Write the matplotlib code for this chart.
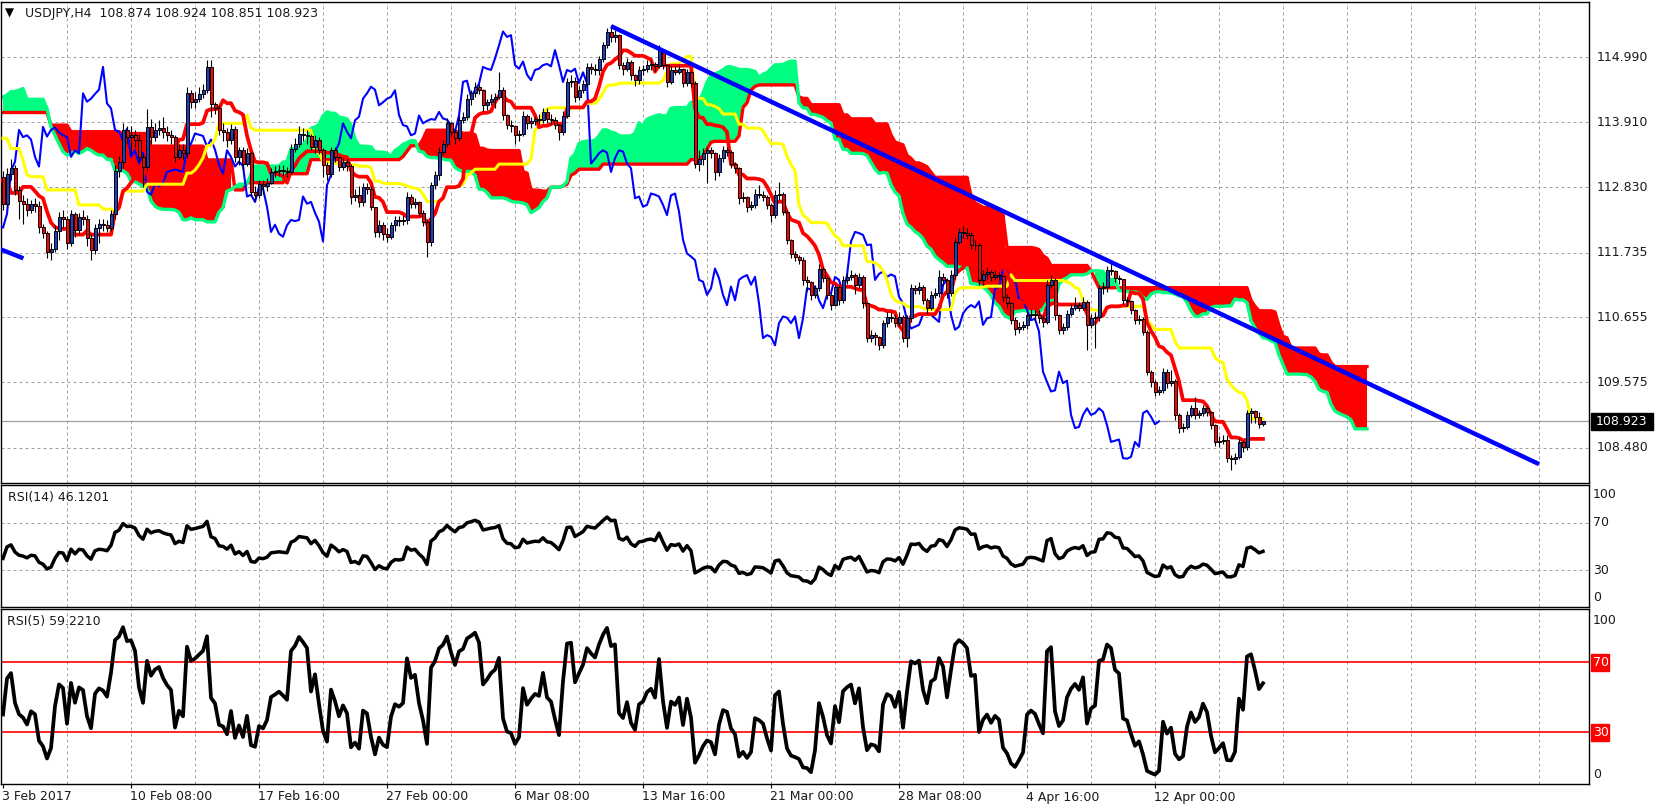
"""
USDJPY H4, Feb-Apr 2017: candles + Ichimoku cloud, RSI(14) and RSI(5) panes,
laid out like the MT4 terminal screenshot.
"""
import numpy as np
import pandas as pd
import matplotlib
matplotlib.use("Agg")
import matplotlib.pyplot as plt
from matplotlib.patches import Rectangle

W, H = 1657, 811

# ---- price bars (one value per H4 bar) ----
FIRST_OPEN = 113.00
CLOSE = [
    112.55, 113.05, 113.15, 112.78, 112.60, 112.55, 112.45, 112.55, 112.52, 112.17,
    112.06, 111.74, 111.80, 112.10, 112.33, 112.30, 111.90, 112.38, 112.12, 112.33,
    112.30, 111.98, 111.78, 112.15, 112.22, 112.20, 112.15, 112.38, 113.10, 113.25,
    113.78, 113.66, 113.69, 113.62, 113.33, 113.17, 113.83, 113.67, 113.78, 113.82,
    113.74, 113.69, 113.66, 113.33, 113.44, 113.39, 114.39, 114.25, 114.30, 114.38,
    114.45, 114.83, 114.22, 114.14, 113.78, 113.75, 113.61, 113.80, 113.33, 113.44,
    113.22, 113.40, 112.75, 112.70, 112.88, 112.84, 112.90, 113.08, 113.10, 113.12,
    113.10, 113.08, 113.47, 113.55, 113.72, 113.70, 113.68, 113.50, 113.62, 113.45,
    113.20, 113.05, 113.44, 113.33, 113.17, 113.25, 113.18, 112.67, 112.70, 112.58,
    112.83, 112.80, 112.50, 112.08, 112.20, 112.05, 112.00, 112.19, 112.28, 112.26,
    112.28, 112.67, 112.55, 112.58, 112.40, 112.25, 111.92, 112.86, 113.03, 113.42,
    113.55, 113.89, 113.75, 113.64, 113.94, 114.00, 114.30, 114.39, 114.50, 114.45,
    114.19, 114.24, 114.30, 114.33, 114.44, 114.03, 113.86, 113.84, 113.69, 113.72,
    114.02, 113.89, 113.93, 113.96, 113.95, 114.08, 113.97, 113.95, 113.86, 113.75,
    114.02, 114.58, 114.60, 114.33, 114.44, 114.55, 114.83, 114.80, 114.78, 114.97,
    115.19, 115.42, 115.33, 115.36, 114.86, 114.80, 114.92, 114.70, 114.61, 114.78,
    114.80, 114.86, 114.88, 114.84, 115.11, 114.86, 114.58, 114.78, 114.75, 114.80,
    114.56, 114.74, 114.56, 113.22, 113.30, 113.39, 113.44, 113.40, 113.08, 113.31,
    113.44, 113.42, 113.22, 113.14, 112.64, 112.67, 112.50, 112.53, 112.72, 112.70,
    112.67, 112.53, 112.36, 112.69, 112.72, 112.42, 111.95, 111.72, 111.67, 111.61,
    111.28, 111.25, 111.03, 111.14, 111.47, 111.31, 111.03, 110.86, 111.17, 110.94,
    111.28, 111.33, 111.36, 111.20, 111.33, 110.89, 110.31, 110.36, 110.33, 110.19,
    110.56, 110.67, 110.65, 110.56, 110.67, 110.31, 110.64, 111.14, 111.12, 111.17,
    110.94, 110.81, 111.03, 111.06, 111.33, 111.28, 111.06, 111.36, 111.92, 112.08,
    112.06, 112.03, 111.86, 111.87, 111.28, 111.38, 111.42, 111.33, 111.37, 111.34,
    111.00, 110.89, 110.61, 110.47, 110.50, 110.53, 110.70, 110.72, 110.70, 110.64,
    110.58, 111.20, 111.28, 110.70, 110.45, 110.50, 110.72, 110.81, 110.86, 110.82,
    110.92, 110.53, 110.64, 110.66, 111.14, 111.16, 111.45, 111.43, 111.31, 111.29,
    110.95, 110.93, 110.78, 110.61, 110.63, 110.42, 109.75, 109.58, 109.42, 109.44,
    109.75, 109.56, 109.60, 109.03, 108.81, 108.83, 109.03, 109.14, 109.03, 109.06,
    109.14, 109.08, 108.86, 108.58, 108.60, 108.62, 108.31, 108.30, 108.33, 108.58,
    108.50, 109.06, 109.10, 109.00, 108.874, 108.923,
]
HIGH = [
    113.10, 113.15, 113.30, 113.20, 112.85, 112.70, 112.65, 112.62, 112.64, 112.60,
    112.22, 112.10, 111.90, 112.20, 112.42, 112.45, 112.35, 112.45, 112.42, 112.40,
    112.45, 112.36, 112.05, 112.22, 112.30, 112.30, 112.28, 112.45, 113.20, 113.35,
    113.90, 113.85, 113.84, 113.78, 113.72, 113.40, 114.13, 113.97, 113.90, 113.95,
    114.00, 113.85, 113.78, 113.70, 113.55, 113.55, 114.50, 114.45, 114.42, 114.50,
    114.55, 114.95, 114.95, 114.25, 114.20, 113.90, 113.82, 113.88, 113.85, 113.50,
    113.50, 113.48, 113.42, 112.85, 112.95, 112.95, 112.98, 113.15, 113.18, 113.20,
    113.20, 113.16, 113.55, 113.65, 113.85, 113.82, 113.78, 113.72, 113.70, 113.66,
    113.48, 113.25, 113.50, 113.50, 113.35, 113.32, 113.30, 113.22, 112.80, 112.85,
    112.90, 112.90, 112.85, 112.50, 112.28, 112.25, 112.15, 112.25, 112.35, 112.35,
    112.36, 112.75, 112.72, 112.64, 112.60, 112.45, 112.30, 112.92, 113.10, 113.50,
    113.62, 113.98, 113.92, 113.80, 114.02, 114.08, 114.38, 114.45, 114.58, 114.55,
    114.46, 114.30, 114.38, 114.40, 114.75, 114.50, 114.05, 113.95, 113.86, 113.78,
    114.10, 114.05, 114.00, 114.02, 114.04, 114.15, 114.14, 114.05, 114.00, 113.88,
    114.10, 114.65, 114.70, 114.66, 114.52, 114.62, 114.90, 114.90, 114.88, 115.02,
    115.25, 115.48, 115.51, 115.45, 115.38, 114.92, 114.98, 114.95, 114.72, 114.84,
    114.86, 114.95, 114.95, 114.92, 115.20, 115.12, 114.88, 114.84, 114.84, 114.86,
    114.82, 114.80, 114.76, 114.60, 113.45, 113.48, 113.50, 113.50, 113.42, 113.38,
    113.52, 113.50, 113.45, 113.25, 113.16, 112.74, 112.68, 112.60, 112.80, 112.86,
    112.76, 112.70, 112.56, 112.78, 112.92, 112.75, 112.45, 111.96, 111.76, 111.70,
    111.66, 111.34, 111.27, 111.20, 111.55, 111.50, 111.34, 111.06, 111.22, 111.20,
    111.35, 111.40, 111.45, 111.40, 111.40, 111.36, 110.92, 110.45, 110.42, 110.35,
    110.62, 110.75, 110.75, 110.70, 110.74, 110.70, 110.70, 111.22, 111.20, 111.25,
    111.20, 110.98, 111.10, 111.14, 111.45, 111.40, 111.32, 111.45, 112.00, 112.15,
    112.18, 112.14, 112.08, 111.95, 111.90, 111.45, 111.50, 111.45, 111.44, 111.42,
    111.36, 111.05, 110.92, 110.66, 110.58, 110.60, 110.76, 110.80, 110.78, 110.78,
    110.70, 111.28, 111.36, 111.32, 110.72, 110.56, 110.78, 110.88, 111.00, 110.92,
    111.00, 110.95, 110.72, 110.74, 111.20, 111.25, 111.52, 111.56, 111.45, 111.36,
    111.30, 111.00, 110.95, 110.80, 110.70, 110.67, 110.45, 109.78, 109.62, 109.52,
    109.82, 109.80, 109.78, 109.63, 109.06, 108.90, 109.10, 109.20, 109.33, 109.12,
    109.20, 109.18, 109.10, 108.88, 108.68, 108.70, 108.70, 108.36, 108.40, 108.65,
    108.62, 109.12, 109.15, 109.12, 109.08, 108.924,
]
LOW = [
    112.45, 112.50, 112.95, 112.70, 112.30, 112.22, 112.35, 112.40, 112.42, 112.06,
    111.98, 111.64, 111.62, 111.75, 111.95, 112.15, 111.80, 111.85, 112.00, 112.05,
    112.20, 111.85, 111.62, 111.72, 111.90, 112.10, 112.08, 112.10, 112.30, 113.00,
    113.15, 113.55, 113.40, 113.50, 113.25, 112.83, 113.10, 113.55, 113.60, 113.70,
    113.65, 113.60, 113.55, 113.25, 113.30, 113.30, 113.32, 114.15, 114.15, 114.25,
    114.32, 114.40, 114.00, 114.05, 113.70, 113.60, 113.50, 113.55, 113.25, 113.20,
    113.12, 113.18, 112.68, 112.60, 112.65, 112.72, 112.76, 112.88, 113.00, 113.02,
    113.02, 113.00, 113.05, 113.42, 113.50, 113.60, 113.55, 113.45, 113.40, 113.38,
    113.00, 112.95, 113.00, 113.25, 113.10, 113.12, 113.10, 112.55, 112.60, 112.50,
    112.52, 112.72, 112.45, 112.00, 112.00, 111.94, 111.92, 111.96, 112.10, 112.18,
    112.20, 112.22, 112.48, 112.48, 112.35, 112.18, 111.67, 111.85, 112.80, 112.95,
    113.38, 113.50, 113.68, 113.55, 113.60, 113.90, 113.95, 114.20, 114.33, 114.38,
    114.10, 114.12, 114.20, 114.15, 114.30, 113.95, 113.80, 113.75, 113.55, 113.60,
    113.68, 113.80, 113.82, 113.86, 113.88, 113.90, 113.90, 113.88, 113.80, 113.61,
    113.70, 113.98, 114.50, 114.25, 114.28, 114.40, 114.50, 114.72, 114.70, 114.70,
    114.92, 115.15, 115.25, 115.25, 114.80, 114.70, 114.76, 114.62, 114.52, 114.55,
    114.70, 114.74, 114.78, 114.76, 114.82, 114.80, 114.50, 114.55, 114.70, 114.72,
    114.50, 114.52, 114.50, 113.15, 113.10, 113.20, 112.89, 113.32, 112.94, 113.02,
    113.25, 113.35, 113.15, 113.06, 112.55, 112.58, 112.42, 112.44, 112.48, 112.64,
    112.60, 112.46, 112.25, 112.32, 112.62, 112.36, 111.88, 111.65, 111.60, 111.55,
    111.20, 111.10, 110.95, 110.98, 111.10, 111.25, 110.96, 110.78, 110.84, 110.86,
    110.90, 111.22, 111.28, 111.05, 111.15, 110.82, 110.25, 110.25, 110.20, 110.12,
    110.14, 110.50, 110.58, 110.50, 110.52, 110.25, 110.17, 110.58, 111.05, 111.05,
    110.88, 110.72, 110.78, 110.98, 111.00, 111.20, 110.98, 111.02, 111.30, 111.88,
    111.98, 111.96, 111.80, 111.78, 111.20, 111.20, 111.30, 111.26, 111.28, 111.28,
    110.92, 110.82, 110.55, 110.36, 110.40, 110.44, 110.47, 110.64, 110.62, 110.56,
    110.50, 110.55, 111.15, 110.62, 110.38, 110.38, 110.45, 110.68, 110.78, 110.76,
    110.78, 110.12, 110.48, 110.15, 110.60, 111.05, 111.08, 111.36, 111.25, 111.22,
    110.88, 110.85, 110.72, 110.55, 110.55, 110.36, 109.70, 109.50, 109.35, 109.36,
    109.40, 109.48, 109.52, 108.95, 108.73, 108.75, 108.80, 109.00, 108.97, 108.98,
    109.02, 109.02, 108.80, 108.52, 108.50, 108.55, 108.25, 108.11, 108.22, 108.30,
    108.42, 108.45, 108.90, 108.90, 108.82, 108.851,
]

# ---- indicator values before the window has enough history ----
TENKAN_LEAD = [112.94, 112.94, 112.73, 112.73, 112.73, 112.83, 112.83, 112.83]
KIJUN_LEAD = [113.64, 113.64, 113.47, 113.47, 113.47, 113.28, 113.03, 113.00, 113.00,
              113.00, 113.00, 112.78, 112.78, 112.78, 112.78, 112.78, 112.78, 112.78,
              112.78, 112.53, 112.53, 112.53, 112.53, 112.53, 112.53]
SPAN_A_LEAD = [114.33, 114.36, 114.42, 114.42, 114.44, 114.47, 114.29, 114.29, 114.29,
               114.29, 114.29, 114.14, 113.83, 113.69, 113.55, 113.42, 113.36, 113.39,
               113.42, 113.39, 113.42, 113.47, 113.44, 113.39, 113.36, 113.36]
SPAN_B_LEAD = [114.07, 114.07, 114.07, 114.07, 114.07, 114.07, 114.07, 114.07, 114.07,
               114.07, 114.07, 114.07, 113.86, 113.86, 113.86, 113.86, 113.86, 113.75,
               113.75, 113.75, 113.75, 113.75, 113.75, 113.75, 113.75, 113.75, 113.75,
               113.75, 113.75, 113.75, 113.72, 113.72, 113.72, 113.72, 113.72, 113.72,
               113.72, 113.51, 113.51, 113.51, 113.51, 113.51, 113.51, 113.51, 113.51,
               113.51, 113.51, 113.51, 113.51, 113.51, 113.51, 113.28, 113.28, 113.28,
               113.28, 113.28, 113.28, 113.28, 112.78, 112.78, 112.78, 112.90, 112.90,
               112.90, 112.90, 112.90, 112.90, 112.90, 112.90, 112.90, 112.90, 113.05,
               113.05, 113.05, 113.05, 113.05, 113.05]
RSI14_START = 40.0
RSI5_START = 40.0

# ---- drawn objects / labels ----
TREND_MAIN_X, TREND_MAIN_Y = [152, 384], [115.51, 108.21]
TREND_OLD_X, TREND_OLD_Y = [-1, 5.1], [111.80, 111.64]
PRICE_TICKS = [114.990, 113.910, 112.830, 111.735, 110.655, 109.575, 108.480]
LAST_PRICE = 108.923
DATE_BARS = [0, 32, 64, 96, 128, 160, 192, 224, 256, 288]
DATE_LABELS = ["3 Feb 2017", "10 Feb 08:00", "17 Feb 16:00", "27 Feb 00:00",
               "6 Mar 08:00", "13 Mar 16:00", "21 Mar 00:00", "28 Mar 08:00",
               "4 Apr 16:00", "12 Apr 00:00"]
HEADER = "USDJPY,H4  108.874 108.924 108.851 108.923"
RSI14_LABEL = "RSI(14) 46.1201"
RSI5_LABEL = "RSI(5) 59.2210"

RED = "#FF0000"
GREEN = "#00FF80"
YELLOW = "#FFFF00"
BLUE = "#0000FF"
BULL = "#1E3CC8"
GRID = "#A0A0A0"
TXT = "#1A1A1A"


def rsi(close, n, start):
    d = np.diff(close)
    up, dn = np.clip(d, 0, None), np.clip(-d, 0, None)
    scale = np.mean(np.abs(d[:n]))
    ag, al = scale * start / 100, scale * (1 - start / 100)
    out = [start]
    for u, v in zip(up, dn):
        ag = (ag * (n - 1) + u) / n
        al = (al * (n - 1) + v) / n
        out.append(100 - 100 / (1 + ag / al))
    return np.array(out)


def fx(x):
    return x / W


def fy(y):
    return 1 - y / H


def add_pane(fig, y0, y1):
    ax = fig.add_axes([fx(1), fy(y1), (1589 - 1) / W, (y1 - y0) / H])
    ax.set_xlim(-0.5, 396.5)
    ax.set_xticks([])
    ax.set_yticks([])
    for s in ax.spines.values():
        s.set_linewidth(1.0)
        s.set_color("black")
    for b in range(16, 397, 16):
        ax.axvline(b, color=GRID, lw=0.72, ls=(0, (3, 3)), zorder=0)
    return ax


def main():
    c = np.array(CLOSE)
    hi = np.array(HIGH)
    lo = np.array(LOW)
    o = np.r_[FIRST_OPEN, c[:-1]]
    n = len(c)
    x = np.arange(n)

    hs, ls_ = pd.Series(hi), pd.Series(lo)
    tenkan = ((hs.rolling(9).max() + ls_.rolling(9).min()) / 2).to_numpy()
    tenkan[:8] = TENKAN_LEAD
    kijun = ((hs.rolling(26).max() + ls_.rolling(26).min()) / 2).to_numpy()
    kijun[:25] = KIJUN_LEAD
    b52 = ((hs.rolling(52).max() + ls_.rolling(52).min()) / 2).to_numpy()
    xs = np.arange(n + 26)
    span_a = np.r_[SPAN_A_LEAD, (tenkan + kijun) / 2]
    span_b = np.r_[SPAN_B_LEAD, b52[51:]]

    fig = plt.figure(figsize=(W / 100, H / 100), dpi=100)
    fig.patch.set_facecolor("white")

    # ---------------- main pane ----------------
    ax = add_pane(fig, 2, 483)
    ax.set_ylim(107.895, 115.912)
    for p in PRICE_TICKS:
        ax.axhline(p, color=GRID, lw=0.72, ls=(0, (3, 3)), zorder=0)
    ax.axhline(LAST_PRICE, color=GRID, lw=0.9, zorder=0.5)

    ax.fill_between(xs, span_a, span_b, where=span_b >= span_a, color=RED,
                    step="mid", lw=0, zorder=1)
    ax.fill_between(xs, span_a, span_b, where=span_a > span_b, color=GREEN,
                    step="mid", lw=0, zorder=1)
    ax.plot(xs, span_b, color=RED, lw=2.4, zorder=2)
    ax.plot(xs, span_a, color=GREEN, lw=2.4, zorder=2)
    ax.plot(x - 26, c, color=BLUE, lw=1.5, zorder=3)
    ax.plot(x, kijun, color=YELLOW, lw=2.2, zorder=3)
    ax.plot(x, tenkan, color=RED, lw=2.7, zorder=3)

    up = c >= o
    ax.vlines(x, lo, hi, color="black", lw=0.8, zorder=5)
    ax.bar(x[up], (c - o)[up], bottom=o[up], width=0.75, color=BULL,
           edgecolor="black", lw=0.7, zorder=6)
    ax.bar(x[~up], (c - o)[~up], bottom=o[~up], width=0.75, color=RED,
           edgecolor="black", lw=0.7, zorder=6)

    ax.plot(TREND_MAIN_X, TREND_MAIN_Y, color=BLUE, lw=3.2,
            solid_capstyle="butt", zorder=7)
    ax.plot(TREND_OLD_X, TREND_OLD_Y, color=BLUE, lw=3.2,
            solid_capstyle="butt", zorder=7)

    # ---------------- RSI(14) ----------------
    ax14 = add_pane(fig, 485, 607)
    ax14.set_ylim(-0.84, 101.68)
    for v in (70, 30):
        ax14.axhline(v, color=GRID, lw=0.72, ls=(0, (3, 3)), zorder=0)
    ax14.plot(x, rsi(c, 14, RSI14_START), color="black", lw=2.5, zorder=3)

    # ---------------- RSI(5) ----------------
    ax5 = add_pane(fig, 609, 784)
    ax5.set_ylim(0.29, 100.29)
    for v in (70, 30):
        ax5.axhline(v, color=RED, lw=1.2, zorder=2)
    ax5.plot(x, rsi(c, 5, RSI5_START), color="black", lw=2.7, zorder=3)
    ax5.set_xticks(DATE_BARS)
    ax5.tick_params(axis="x", length=3, width=0.8, direction="out",
                    labelbottom=False)

    # ---------------- texts ----------------
    fs = 9
    fig.text(fx(5), fy(13), "\u25BC", fontsize=8.5, va="center", color="black")
    fig.text(fx(25), fy(14), HEADER, fontsize=fs, va="center", color=TXT)
    fig.text(fx(8), fy(497), RSI14_LABEL, fontsize=fs, va="center", color=TXT)
    fig.text(fx(7), fy(622), RSI5_LABEL, fontsize=fs, va="center", color=TXT)

    for k, p in enumerate(PRICE_TICKS):
        fig.text(fx(1597), fy(57.3 + 65 * k), f"{p:.3f}", fontsize=fs,
                 va="center", color=TXT)
    fig.add_artist(Rectangle((fx(1591), fy(430)), 62 / W, 17 / H,
                             transform=fig.transFigure, color="black"))
    fig.text(fx(1596), fy(421.5), f"{LAST_PRICE:.3f}", fontsize=fs,
             va="center", color="white")

    for lab, yy in (("100", 495), ("70", 522.7), ("30", 570.3), ("0", 597.7)):
        fig.text(fx(1593), fy(yy), lab, fontsize=fs, va="center", color=TXT)
    fig.text(fx(1593), fy(620), "100", fontsize=fs, va="center", color=TXT)
    fig.text(fx(1593), fy(775), "0", fontsize=fs, va="center", color=TXT)
    for lab, yy in (("70", 662.5), ("30", 732.5)):
        fig.add_artist(Rectangle((fx(1591), fy(yy + 8.5)), 18 / W, 17 / H,
                                 transform=fig.transFigure, color=RED))
        fig.text(fx(1593), fy(yy), lab, fontsize=fs, va="center", color="white")

    for b, lab in zip(DATE_BARS, DATE_LABELS):
        fig.text(fx(3 + 4 * b - 1), fy(797), lab, fontsize=fs, va="center",
                 color=TXT)

    fig.savefig("out.png", dpi=100)


if __name__ == "__main__":
    main()
